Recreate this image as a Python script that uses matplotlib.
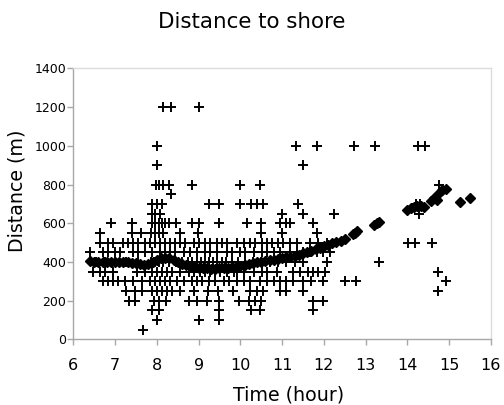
import matplotlib
matplotlib.use('Agg')
import matplotlib.pyplot as plt

# ---- smoothed distance (diamonds) ----
smooth_x = [6.4, 6.5, 6.6, 6.7, 6.8, 6.9, 7.0, 7.1, 7.2, 7.3, 7.4, 7.5, 7.6, 7.7, 7.8, 7.9,
            8.0, 8.1, 8.2, 8.3, 8.4, 8.5, 8.6, 8.7, 8.8, 8.9, 9.0, 9.1, 9.2, 9.3, 9.4, 9.5,
            9.6, 9.7, 9.8, 9.9, 10.0, 10.1, 10.2, 10.3, 10.4, 10.5, 10.6, 10.7, 10.8, 10.9,
            11.0, 11.1, 11.2, 11.3, 11.4, 11.5, 11.6, 11.7, 11.8, 11.9, 12.0, 12.1, 12.2,
            12.3, 12.4, 12.5, 12.7, 12.75, 12.8, 13.2, 13.27, 13.33, 13.98, 14.08, 14.16,
            14.24, 14.32, 14.4, 14.56, 14.63, 14.7, 14.76, 14.83, 14.92, 15.25, 15.5]
smooth_y = [405, 402, 402, 400, 400, 400, 400, 400, 398, 397, 395, 392, 388, 385, 390, 397,
            408, 418, 422, 418, 408, 398, 390, 382, 377, 373, 370, 368, 366, 365, 365, 366,
            367, 369, 372, 375, 378, 382, 387, 392, 397, 401, 405, 408, 412, 416,
            419, 423, 428, 432, 438, 444, 450, 458, 466, 474, 482, 490, 497,
            503, 510, 520, 545, 552, 558, 590, 600, 608, 668, 678, 686,
            690, 688, 686, 716, 728, 722, 755, 770, 775, 712, 728]

# ---- individual observations (plus markers), grouped by distance level ----
x_at_50 = [7.68]
x_at_100 = [8.0, 9.0, 9.5]
x_at_150 = [7.88, 8.06, 9.5, 10.25, 10.47, 11.75]
x_at_200 = [7.33, 7.47, 7.92, 8.04, 8.22, 8.76, 8.95, 9.2, 9.5, 9.97, 10.2, 10.35, 10.5,
            11.75, 11.98]
x_at_250 = [7.25, 7.48, 7.64, 7.88, 8.0, 8.12, 8.24, 8.36, 8.55, 8.9, 9.23, 9.47, 9.83,
            10.22, 10.4, 10.55, 10.95, 11.1, 11.5, 14.74]
x_at_300 = [6.72, 6.84, 6.96, 7.08, 7.24, 7.44, 7.64, 7.84, 7.96, 8.08, 8.2, 8.32, 8.48,
            8.64, 8.84, 8.96, 9.08, 9.24, 9.4, 9.6, 9.72, 9.92, 10.08, 10.24, 10.48, 10.64,
            10.8, 10.95, 11.1, 11.27, 11.5, 11.7, 11.99, 12.5, 12.78, 14.93]
x_at_350 = [6.48, 6.64, 6.76, 6.96, 7.52, 7.72, 7.88, 8.0, 8.12, 8.24, 8.36, 8.56, 8.76,
            8.88, 9.04, 9.16, 9.28, 9.4, 9.52, 9.68, 9.84, 9.92, 10.08, 10.32, 10.52, 10.64,
            10.88, 11.27, 11.43, 11.63, 11.75, 11.87, 12.03, 14.74]
x_at_400 = [6.55, 6.75, 7.0, 7.25, 7.55, 7.85, 7.95, 8.05, 8.15, 8.3, 8.45, 8.6, 8.75,
            8.85, 8.95, 9.05, 9.15, 9.25, 9.35, 9.45, 9.55, 9.65, 9.8, 9.95, 10.1, 10.3,
            10.5, 10.7, 10.9, 11.1, 11.3, 11.5, 12.07, 13.33]
x_at_450 = [6.4, 6.72, 6.84, 7.0, 7.12, 7.44, 7.56, 7.72, 7.88, 8.08, 8.2, 8.32, 8.44,
            8.64, 8.8, 8.96, 9.16, 9.28, 9.44, 9.68, 9.8, 10.0, 10.12, 10.32, 10.52, 10.64,
            10.8, 10.95, 11.19, 11.35, 11.51, 11.67, 11.83, 11.99, 12.15]
x_at_500 = [6.64, 6.84, 6.96, 7.2, 7.32, 7.44, 7.56, 7.72, 7.84, 7.96, 8.08, 8.2, 8.32,
            8.44, 8.56, 8.68, 8.88, 9.0, 9.16, 9.28, 9.44, 9.56, 9.68, 9.92, 10.08, 10.24,
            10.36, 10.52, 10.64, 10.76, 10.9, 11.03, 11.19, 11.35, 11.67, 11.87, 12.07,
            14.02, 14.18, 14.58]
x_at_550 = [6.65, 7.4, 7.62, 7.85, 7.95, 8.05, 8.15, 8.55, 8.98, 10.5, 11.0, 11.83]
x_at_600 = [6.9, 7.4, 7.88, 7.96, 8.04, 8.12, 8.2, 8.3, 8.45, 8.85, 9.0, 9.5, 10.17,
            10.5, 10.95, 11.1, 11.2, 11.75]
x_at_650 = [7.88, 7.96, 8.08, 11.0, 11.5, 12.25, 14.28]
x_at_700 = [7.88, 8.0, 8.12, 9.25, 9.48, 10.0, 10.25, 10.4, 10.55, 11.37, 14.2, 14.3]
x_at_750 = [8.34]
x_at_800 = [7.97, 8.05, 8.15, 8.3, 8.83, 10.0, 10.47, 14.75]
x_at_900 = [8.0, 11.5]
x_at_1000 = [8.0, 11.33, 11.83, 12.72, 13.23, 14.25, 14.42]
x_at_1200 = [8.15, 8.35, 9.0]

levels = [50, 100, 150, 200, 250, 300, 350, 400, 450, 500, 550, 600, 650, 700, 750,
          800, 900, 1000, 1200]
level_x = [x_at_50, x_at_100, x_at_150, x_at_200, x_at_250, x_at_300, x_at_350, x_at_400,
           x_at_450, x_at_500, x_at_550, x_at_600, x_at_650, x_at_700, x_at_750, x_at_800,
           x_at_900, x_at_1000, x_at_1200]

obs_x, obs_y = [], []
for lev, xs in zip(levels, level_x):
    obs_x.extend(xs)
    obs_y.extend([lev] * len(xs))

x_ticks = [6, 7, 8, 9, 10, 11, 12, 13, 14, 15, 16]
y_ticks = [0, 200, 400, 600, 800, 1000, 1200, 1400]

plt.rcParams['font.family'] = ['DejaVu Sans']
fig = plt.figure(figsize=(5.04, 4.05), dpi=100)
ax = fig.add_axes([0.1455, 0.1622, 0.8285, 0.6688])

ax.plot(obs_x, obs_y, linestyle='none', marker='+', markersize=7.8, markeredgewidth=1.4,
        color='black', zorder=2)
ax.plot(smooth_x, smooth_y, linestyle='none', marker='D', markersize=5.2,
        color='black', markeredgecolor='black', zorder=3)

ax.set_xlim(6, 16)
ax.set_ylim(0, 1400)
ax.set_xticks(x_ticks)
ax.set_yticks(y_ticks)
ax.set_xticklabels([str(t) for t in x_ticks], fontsize=11.5)
ax.set_yticklabels([str(t) for t in y_ticks], fontsize=9)

for s in ['left', 'bottom']:
    ax.spines[s].set_color('#a8a8a8')
    ax.spines[s].set_linewidth(1.0)
for s in ['top', 'right']:
    ax.spines[s].set_color('#dcdcdc')
    ax.spines[s].set_linewidth(1.0)

ax.tick_params(axis='x', direction='out', length=4.5, width=1.0, color='#a8a8a8', pad=9)
ax.tick_params(axis='y', direction='out', length=4, width=1.0, color='#a8a8a8', pad=1)

ax.set_xlabel('Time (hour)', fontsize=13.7)
ax.xaxis.set_label_coords(0.516, -0.172)
ax.set_ylabel('Distance (m)', fontsize=13.7)
ax.yaxis.set_label_coords(-0.112, 0.55)

fig.text(0.5, 0.945, 'Distance to shore', ha='center', va='center', fontsize=15.4)

fig.savefig('out.png', dpi=100)
